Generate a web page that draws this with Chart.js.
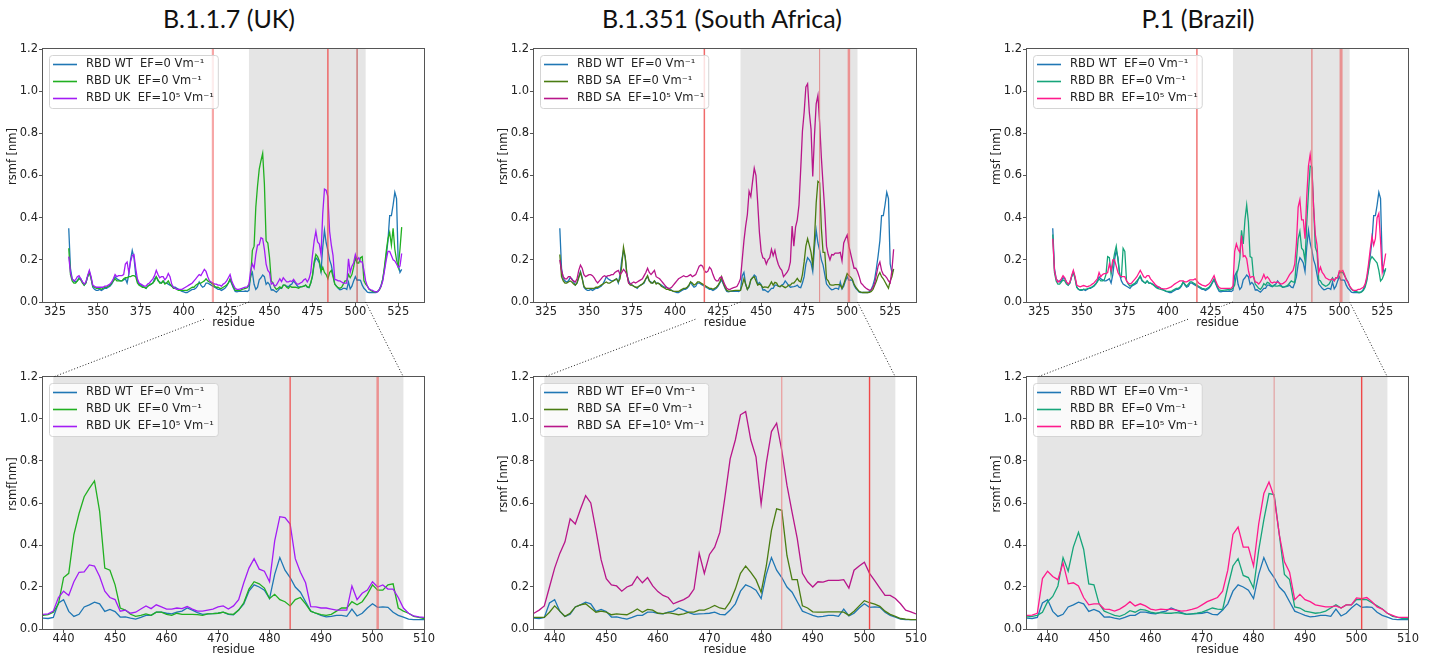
<!DOCTYPE html>
<html>
<head>
<meta charset="utf-8">
<script src="https://cdn.jsdelivr.net/npm/chart.js@4.4.1/dist/chart.umd.min.js"></script>
<style>
  body { margin: 0; background: #fff; width: 1435px; height: 663px; position: relative; overflow: hidden; }
  canvas { position: absolute; }
  #links { left: 0; top: 0; pointer-events: none; z-index: 5; }
  .variant-title {
    position: absolute; top: 6px; transform: translateX(-50%);
    font-family: Lato, "Noto Sans", sans-serif; font-size: 25px; line-height: 25px;
    color: #111; white-space: nowrap;
  }
</style>
</head>
<body>
<div class="variant-title" style="left:229px">B.1.1.7 (UK)</div>
<div class="variant-title" style="left:722px">B.1.351 (South Africa)</div>
<div class="variant-title" style="left:1198px">P.1 (Brazil)</div>
<canvas id="links" width="1435" height="663"></canvas>
<script>
// RMSF per residue, residues 333..527 (one value per residue)
const firstResidue = 333;

const wtRmsf = [
  0.35, 0.16, 0.11, 0.10, 0.095, 0.10, 0.115,
  0.11, 0.095, 0.08, 0.09, 0.12, 0.145, 0.115, 0.07, 0.06, 0.055,
  0.055, 0.06, 0.055, 0.06, 0.065, 0.065, 0.07, 0.075, 0.085, 0.10,
  0.12, 0.11, 0.105, 0.10, 0.10, 0.105, 0.11, 0.09, 0.13, 0.20,
  0.245, 0.21, 0.13, 0.10, 0.085, 0.08, 0.075, 0.07, 0.065, 0.075,
  0.08, 0.085, 0.09, 0.11, 0.12, 0.10, 0.095, 0.09, 0.10, 0.09,
  0.09, 0.085, 0.08, 0.075, 0.07, 0.07, 0.065, 0.06, 0.055, 0.05,
  0.048, 0.045, 0.045, 0.05, 0.055, 0.06, 0.06, 0.065, 0.075, 0.095,
  0.08, 0.07, 0.075, 0.09, 0.09, 0.085, 0.08, 0.075, 0.07, 0.065,
  0.06, 0.06, 0.055, 0.06, 0.065, 0.075, 0.09, 0.105, 0.085, 0.065,
  0.05, 0.048, 0.05, 0.05, 0.05, 0.05, 0.052, 0.05, 0.055, 0.124,
  0.14, 0.084, 0.06, 0.07, 0.105, 0.115, 0.128, 0.12, 0.084, 0.093,
  0.083, 0.057, 0.058, 0.052, 0.047, 0.055, 0.065, 0.065, 0.08, 0.08,
  0.075, 0.072, 0.08, 0.085, 0.10, 0.09, 0.078, 0.07, 0.072, 0.073,
  0.075, 0.08, 0.07, 0.068, 0.09, 0.12, 0.18, 0.21, 0.20, 0.185,
  0.145, 0.26, 0.34, 0.28, 0.245, 0.20, 0.175, 0.13, 0.085, 0.075,
  0.065, 0.058, 0.06, 0.065, 0.065, 0.06, 0.095, 0.062, 0.075, 0.10,
  0.12, 0.103, 0.105, 0.103, 0.08, 0.065, 0.057, 0.047, 0.045, 0.045,
  0.045, 0.045, 0.045, 0.05, 0.06, 0.08, 0.11, 0.16, 0.22, 0.29,
  0.41, 0.41, 0.46, 0.52, 0.49, 0.18, 0.14, 0.155
];

const ukRmsf0 = [
  0.255, 0.13, 0.10, 0.09, 0.09, 0.10, 0.11,
  0.105, 0.09, 0.08, 0.09, 0.12, 0.14, 0.11, 0.075, 0.07, 0.065,
  0.065, 0.065, 0.06, 0.065, 0.07, 0.07, 0.075, 0.08, 0.09, 0.10,
  0.11, 0.10, 0.10, 0.10, 0.10, 0.11, 0.115, 0.115, 0.12, 0.12,
  0.125, 0.125, 0.12, 0.09, 0.08, 0.075, 0.07, 0.07, 0.065, 0.075,
  0.08, 0.085, 0.09, 0.10, 0.12, 0.105, 0.09, 0.09, 0.10, 0.085,
  0.09, 0.10, 0.085, 0.075, 0.065, 0.065, 0.06, 0.055, 0.055, 0.055,
  0.055, 0.055, 0.055, 0.06, 0.065, 0.07, 0.07, 0.08, 0.085, 0.09,
  0.09, 0.095, 0.10, 0.11, 0.10, 0.095, 0.09, 0.085, 0.075, 0.07,
  0.07, 0.065, 0.065, 0.07, 0.075, 0.08, 0.09, 0.11, 0.09, 0.07,
  0.055, 0.055, 0.055, 0.055, 0.06, 0.062, 0.065, 0.068, 0.08, 0.12,
  0.245, 0.265, 0.45, 0.55, 0.63, 0.67, 0.705, 0.56, 0.29, 0.28,
  0.21, 0.10, 0.09, 0.07, 0.06, 0.065, 0.072, 0.065, 0.08, 0.08,
  0.07, 0.065, 0.075, 0.07, 0.07, 0.07, 0.068, 0.065, 0.072, 0.073,
  0.075, 0.08, 0.072, 0.07, 0.09, 0.125, 0.19, 0.225, 0.215, 0.195,
  0.145, 0.165, 0.14, 0.13, 0.11, 0.14, 0.15, 0.12, 0.085, 0.075,
  0.068, 0.065, 0.07, 0.085, 0.10, 0.10, 0.13, 0.115, 0.13, 0.165,
  0.21, 0.185, 0.185, 0.21, 0.215, 0.10, 0.085, 0.075, 0.06, 0.055,
  0.05, 0.048, 0.048, 0.05, 0.058, 0.075, 0.11, 0.17, 0.24, 0.30,
  0.33, 0.27, 0.35, 0.25, 0.20, 0.165, 0.25, 0.355
];

const ukRmsf5 = [
  0.215, 0.14, 0.11, 0.10, 0.105, 0.12, 0.125,
  0.11, 0.095, 0.085, 0.095, 0.125, 0.15, 0.12, 0.08, 0.075, 0.07,
  0.07, 0.07, 0.07, 0.07, 0.075, 0.075, 0.08, 0.085, 0.095, 0.11,
  0.13, 0.12, 0.125, 0.125, 0.125, 0.13, 0.18, 0.19, 0.14, 0.19,
  0.22, 0.225, 0.16, 0.11, 0.09, 0.085, 0.08, 0.075, 0.075, 0.085,
  0.09, 0.10, 0.11, 0.125, 0.15, 0.13, 0.115, 0.12, 0.12, 0.105,
  0.115, 0.135, 0.12, 0.085, 0.07, 0.065, 0.06, 0.06, 0.06, 0.06,
  0.065, 0.07, 0.075, 0.08, 0.085, 0.09, 0.10, 0.11, 0.12, 0.13,
  0.125, 0.14, 0.155, 0.145, 0.12, 0.10, 0.095, 0.09, 0.085, 0.085,
  0.08, 0.08, 0.075, 0.085, 0.09, 0.10, 0.115, 0.13, 0.10, 0.08,
  0.065, 0.06, 0.06, 0.062, 0.065, 0.068, 0.07, 0.072, 0.085, 0.15,
  0.18, 0.16, 0.225, 0.27, 0.272, 0.305, 0.30, 0.25, 0.18, 0.15,
  0.14, 0.085, 0.09, 0.075, 0.08, 0.095, 0.11, 0.097, 0.115, 0.105,
  0.095, 0.095, 0.10, 0.097, 0.107, 0.095, 0.085, 0.085, 0.09, 0.095,
  0.105, 0.11, 0.095, 0.11, 0.14, 0.22, 0.29, 0.335, 0.285, 0.275,
  0.225, 0.42, 0.535, 0.53, 0.50, 0.335, 0.27, 0.22, 0.107, 0.105,
  0.10, 0.10, 0.095, 0.09, 0.09, 0.09, 0.205, 0.14, 0.17, 0.185,
  0.225, 0.20, 0.21, 0.19, 0.19, 0.15, 0.10, 0.075, 0.062, 0.058,
  0.055, 0.05, 0.048, 0.048, 0.06, 0.075, 0.10, 0.15, 0.20, 0.24,
  0.24, 0.22, 0.20, 0.195, 0.18, 0.165, 0.17, 0.23
];

const saRmsf0 = [
  0.225, 0.12, 0.10, 0.09, 0.09, 0.095, 0.10,
  0.095, 0.085, 0.08, 0.09, 0.115, 0.14, 0.11, 0.075, 0.065, 0.065,
  0.065, 0.065, 0.065, 0.065, 0.07, 0.07, 0.075, 0.08, 0.085, 0.09,
  0.095, 0.09, 0.09, 0.095, 0.10, 0.105, 0.11, 0.095, 0.11, 0.17,
  0.26, 0.215, 0.13, 0.09, 0.08, 0.08, 0.075, 0.07, 0.07, 0.075,
  0.08, 0.085, 0.095, 0.11, 0.125, 0.10, 0.09, 0.09, 0.10, 0.085,
  0.09, 0.085, 0.075, 0.07, 0.065, 0.06, 0.06, 0.055, 0.055, 0.05,
  0.05, 0.05, 0.05, 0.055, 0.06, 0.065, 0.065, 0.07, 0.08, 0.095,
  0.09, 0.08, 0.085, 0.095, 0.095, 0.09, 0.085, 0.08, 0.075, 0.07,
  0.065, 0.065, 0.06, 0.065, 0.07, 0.08, 0.095, 0.12, 0.09, 0.07,
  0.055, 0.052, 0.052, 0.053, 0.054, 0.055, 0.055, 0.055, 0.055, 0.08,
  0.11, 0.085, 0.06, 0.075, 0.105, 0.115, 0.12, 0.10, 0.08, 0.085,
  0.08, 0.068, 0.072, 0.07, 0.068, 0.08, 0.095, 0.08, 0.093, 0.09,
  0.075, 0.073, 0.078, 0.073, 0.068, 0.072, 0.08, 0.08, 0.09, 0.09,
  0.10, 0.112, 0.10, 0.095, 0.13, 0.19, 0.265, 0.30, 0.27, 0.235,
  0.175, 0.30, 0.47, 0.572, 0.565, 0.35, 0.235, 0.235, 0.11, 0.10,
  0.082, 0.08, 0.08, 0.082, 0.082, 0.082, 0.08, 0.065, 0.085, 0.11,
  0.135, 0.125, 0.118, 0.108, 0.085, 0.07, 0.06, 0.05, 0.047, 0.045,
  0.045, 0.045, 0.045, 0.046, 0.05, 0.06, 0.08, 0.10, 0.125, 0.14,
  0.12, 0.11, 0.095, 0.08, 0.065, 0.10, 0.12, 0.157
];

const saRmsf5 = [
  0.20, 0.15, 0.12, 0.11, 0.11, 0.12, 0.12,
  0.105, 0.10, 0.095, 0.11, 0.15, 0.175, 0.16, 0.13, 0.12, 0.125,
  0.13, 0.13, 0.125, 0.115, 0.10, 0.09, 0.10, 0.11, 0.12, 0.125,
  0.12, 0.125, 0.125, 0.13, 0.13, 0.14, 0.145, 0.15, 0.13, 0.14,
  0.155, 0.145, 0.13, 0.09, 0.085, 0.09, 0.095, 0.09, 0.095, 0.10,
  0.105, 0.11, 0.125, 0.14, 0.16, 0.14, 0.13, 0.14, 0.15, 0.12,
  0.115, 0.11, 0.10, 0.09, 0.08, 0.07, 0.065, 0.065, 0.07, 0.08,
  0.09, 0.10, 0.11, 0.115, 0.12, 0.125, 0.12, 0.12, 0.125, 0.13,
  0.12, 0.125, 0.13, 0.15, 0.17, 0.175, 0.17, 0.15, 0.14, 0.145,
  0.165, 0.155, 0.13, 0.11, 0.10, 0.10, 0.115, 0.12, 0.10, 0.08,
  0.065, 0.06, 0.06, 0.065, 0.068, 0.07, 0.075, 0.09, 0.11, 0.20,
  0.29, 0.36, 0.415, 0.525, 0.50, 0.57, 0.635, 0.60, 0.47, 0.33,
  0.24, 0.21, 0.205, 0.18, 0.20, 0.21, 0.25, 0.22, 0.245, 0.205,
  0.178, 0.16, 0.15, 0.12, 0.13, 0.14, 0.155, 0.19, 0.36, 0.265,
  0.355, 0.39, 0.46, 0.63, 0.81, 0.90, 1.02, 1.035, 0.90, 0.82,
  0.595, 0.79, 0.94, 0.98, 0.85, 0.685, 0.555, 0.43, 0.265, 0.225,
  0.20, 0.225, 0.223, 0.232, 0.232, 0.232, 0.235, 0.195, 0.28, 0.30,
  0.318, 0.265, 0.23, 0.195, 0.16, 0.16, 0.145, 0.12, 0.09, 0.082,
  0.072, 0.065, 0.06, 0.055, 0.058, 0.07, 0.09, 0.13, 0.17, 0.19,
  0.15, 0.13, 0.125, 0.115, 0.10, 0.09, 0.15, 0.25
];

const brRmsf0 = [
  0.32, 0.14, 0.10, 0.085, 0.085, 0.095, 0.105,
  0.10, 0.085, 0.08, 0.09, 0.12, 0.14, 0.11, 0.07, 0.06, 0.058,
  0.058, 0.06, 0.06, 0.062, 0.065, 0.068, 0.072, 0.078, 0.085, 0.095,
  0.11, 0.10, 0.10, 0.105, 0.13, 0.215, 0.21, 0.13, 0.18, 0.23,
  0.265, 0.20, 0.13, 0.12, 0.255, 0.24, 0.10, 0.085, 0.075, 0.08,
  0.085, 0.09, 0.10, 0.11, 0.125, 0.105, 0.095, 0.09, 0.10, 0.09,
  0.09, 0.085, 0.078, 0.07, 0.065, 0.062, 0.06, 0.057, 0.055, 0.052,
  0.05, 0.05, 0.05, 0.055, 0.06, 0.065, 0.065, 0.07, 0.08, 0.095,
  0.085, 0.075, 0.085, 0.095, 0.095, 0.09, 0.085, 0.08, 0.075, 0.07,
  0.065, 0.063, 0.06, 0.065, 0.07, 0.08, 0.095, 0.11, 0.09, 0.07,
  0.057, 0.055, 0.055, 0.056, 0.057, 0.058, 0.058, 0.06, 0.065, 0.08,
  0.13, 0.155, 0.205, 0.34, 0.275, 0.39, 0.46, 0.38, 0.215, 0.21,
  0.12, 0.085, 0.075, 0.065, 0.06, 0.07, 0.087, 0.08, 0.093, 0.09,
  0.08, 0.075, 0.078, 0.075, 0.075, 0.078, 0.075, 0.07, 0.072, 0.075,
  0.08, 0.09, 0.10, 0.095, 0.093, 0.20, 0.30, 0.335, 0.255, 0.245,
  0.195, 0.375, 0.52, 0.645, 0.64, 0.45, 0.26, 0.235, 0.105, 0.10,
  0.085, 0.08, 0.075, 0.078, 0.085, 0.10, 0.115, 0.10, 0.115, 0.115,
  0.14, 0.14, 0.14, 0.125, 0.11, 0.095, 0.075, 0.06, 0.055, 0.05,
  0.05, 0.045, 0.045, 0.048, 0.055, 0.07, 0.10, 0.15, 0.20, 0.215,
  0.205, 0.195, 0.185, 0.15, 0.10, 0.11, 0.13, 0.16
];

const brRmsf5 = [
  0.30, 0.15, 0.11, 0.095, 0.10, 0.11, 0.125,
  0.115, 0.095, 0.085, 0.095, 0.125, 0.15, 0.12, 0.08, 0.075, 0.072,
  0.075, 0.078, 0.075, 0.072, 0.075, 0.078, 0.085, 0.09, 0.10, 0.11,
  0.14, 0.12, 0.13, 0.135, 0.135, 0.14, 0.18, 0.15, 0.20, 0.20,
  0.17, 0.14, 0.125, 0.12, 0.12, 0.12, 0.10, 0.09, 0.085, 0.09,
  0.10, 0.11, 0.12, 0.135, 0.15, 0.135, 0.12, 0.115, 0.125, 0.125,
  0.11, 0.10, 0.09, 0.08, 0.075, 0.07, 0.065, 0.063, 0.062, 0.062,
  0.065, 0.068, 0.072, 0.078, 0.085, 0.09, 0.095, 0.10, 0.10, 0.10,
  0.095, 0.095, 0.10, 0.105, 0.105, 0.105, 0.11, 0.10, 0.09, 0.085,
  0.08, 0.078, 0.075, 0.08, 0.085, 0.095, 0.11, 0.125, 0.10, 0.08,
  0.068, 0.065, 0.065, 0.065, 0.065, 0.065, 0.065, 0.066, 0.075, 0.24,
  0.275, 0.25, 0.235, 0.315, 0.215, 0.22, 0.205, 0.15, 0.115, 0.12,
  0.12, 0.095, 0.093, 0.085, 0.095, 0.11, 0.13, 0.11, 0.12, 0.11,
  0.095, 0.09, 0.095, 0.092, 0.095, 0.09, 0.085, 0.087, 0.093, 0.10,
  0.115, 0.13, 0.14, 0.15, 0.18, 0.28, 0.45, 0.485, 0.39, 0.39,
  0.30, 0.50, 0.645, 0.70, 0.63, 0.45, 0.32, 0.27, 0.14, 0.165,
  0.14, 0.13, 0.115, 0.11, 0.105, 0.105, 0.11, 0.10, 0.115, 0.115,
  0.148, 0.145, 0.15, 0.13, 0.105, 0.095, 0.075, 0.065, 0.055, 0.055,
  0.055, 0.06, 0.06, 0.065, 0.07, 0.085, 0.12, 0.18, 0.25, 0.31,
  0.27, 0.30, 0.40, 0.42, 0.29, 0.14, 0.18, 0.23
];

// axes
const fullRange = [318, 540];
const zoomRange = [436, 510];
const fullTicks = [325, 350, 375, 400, 425, 450, 475, 500, 525];
const zoomTicks = [440, 450, 460, 470, 480, 490, 500, 510];
const rmsfTicks = [0, 0.2, 0.4, 0.6, 0.8, 1.0, 1.2];

// mutated residues and the shaded receptor-binding window
const mutationSites = [417, 484, 501];
const zoomWindow = [438, 506];

// ---- layout (plot area edges in page pixels) ----
const columns = [{ left: 43, right: 424 }, { left: 534, right: 916 }, { left: 1027, right: 1408 }];
const rows = [{ top: 49, bottom: 302 }, { top: 377, bottom: 629 }];
const AXIS_W = 37, AXIS_H = 28, PAD_TOP = 10, PAD_RIGHT = 14;
const TEXT = '#222';
const FONT = '"DejaVu Sans", sans-serif';
const FONT_SIZE = 11.5;

const variants = [
  {
    tag: 'UK', noField: ukRmsf0, withField: ukRmsf5,
    colors: ['#1f77b4', '#21b021', '#a31cf5'],
    ylabels: ['rsmf [nm]', 'rsmf[nm]'],
    markers: [
      [{ c: 'rgba(240,80,80,0.5)', w: 2.2 }, { c: 'rgba(240,70,70,0.85)', w: 1.4 }, { c: '#c04545', w: 1 }],
      [{ c: 'rgba(240,80,80,0.5)', w: 2.2 }, { c: '#f04a4a', w: 1.2 }, { c: 'rgba(240,100,100,0.65)', w: 2.5 }]
    ]
  },
  {
    tag: 'SA', noField: saRmsf0, withField: saRmsf5,
    colors: ['#1f77b4', '#4a7c12', '#b8168a'],
    ylabels: ['rsmf [nm]', 'rsmf [nm]'],
    markers: [
      [{ c: '#f06a6a', w: 1.5 }, { c: '#e08a8a', w: 1 }, { c: 'rgba(240,90,90,0.6)', w: 2.5 }],
      [{ c: '#f06a6a', w: 1.5 }, { c: '#eb8c8c', w: 1 }, { c: '#f04848', w: 1.4 }]
    ]
  },
  {
    tag: 'BR', noField: brRmsf0, withField: brRmsf5,
    colors: ['#1f77b4', '#16a57a', '#ff1a8c'],
    ylabels: ['rmsf [nm]', 'rsmf [nm]'],
    markers: [
      [{ c: '#f06a6a', w: 1.4 }, { c: '#e07f7f', w: 1.2 }, { c: 'rgba(235,90,90,0.6)', w: 3 }],
      [{ c: '#f06a6a', w: 1.4 }, { c: '#e39595', w: 1 }, { c: '#f04848', w: 1.4 }]
    ]
  }
];

// shading, mutation markers, in-axes legend, frame and the y label
const panelDecor = {
  id: 'panelDecor',
  beforeDatasetsDraw(chart) {
    const { ctx, chartArea: a, scales: { x } } = chart;
    const x0 = x.getPixelForValue(zoomWindow[0]);
    const x1 = x.getPixelForValue(zoomWindow[1]);
    ctx.save();
    ctx.beginPath();
    ctx.rect(a.left, a.top, a.width, a.height);
    ctx.clip();
    ctx.fillStyle = '#e5e5e5';
    ctx.fillRect(x0, a.top, x1 - x0, a.height);
    ctx.restore();
  },
  afterDatasetsDraw(chart, args, opts) {
    const { ctx, chartArea: a, scales: { x } } = chart;
    ctx.save();
    ctx.beginPath();
    ctx.rect(a.left, a.top, a.width, a.height);
    ctx.clip();
    mutationSites.forEach((res, i) => {
      const px = x.getPixelForValue(res);
      ctx.beginPath();
      ctx.moveTo(px, a.top);
      ctx.lineTo(px, a.bottom);
      ctx.strokeStyle = opts.markers[i].c;
      ctx.lineWidth = opts.markers[i].w;
      ctx.stroke();
    });
    ctx.restore();

    // legend box in the upper left corner
    ctx.save();
    ctx.font = FONT_SIZE + 'px ' + FONT;
    const sets = chart.data.datasets;
    const textW = Math.max(...sets.map(d => ctx.measureText(d.label).width));
    const bx = a.left + 6, by = a.top + 6, bw = 37 + textW + 4, bh = 53;
    ctx.beginPath();
    if (ctx.roundRect) ctx.roundRect(bx + 0.5, by + 0.5, bw, bh, 3);
    else ctx.rect(bx + 0.5, by + 0.5, bw, bh);
    ctx.fillStyle = 'rgba(255,255,255,0.8)';
    ctx.fill();
    ctx.strokeStyle = '#d4d4d4';
    ctx.lineWidth = 1;
    ctx.stroke();
    sets.forEach((d, i) => {
      const cy = by + 9.5 + i * 17;
      ctx.beginPath();
      ctx.moveTo(bx + 4, cy);
      ctx.lineTo(bx + 28, cy);
      ctx.strokeStyle = d.borderColor;
      ctx.lineWidth = 1.6;
      ctx.stroke();
      ctx.fillStyle = TEXT;
      ctx.textBaseline = 'middle';
      ctx.fillText(d.label, bx + 37, cy);
    });
    ctx.restore();
  },
  afterDraw(chart, args, opts) {
    const { ctx, chartArea: a } = chart;
    ctx.save();
    ctx.strokeStyle = '#555';
    ctx.lineWidth = 1;
    ctx.strokeRect(Math.round(a.left) - 0.5, Math.round(a.top) - 0.5,
                   Math.round(a.width) + 1, Math.round(a.height) + 1);
    ctx.translate(a.left - 30, (a.top + a.bottom) / 2 - 19);
    ctx.rotate(-Math.PI / 2);
    ctx.font = FONT_SIZE + 'px ' + FONT;
    ctx.fillStyle = TEXT;
    ctx.textAlign = 'center';
    ctx.textBaseline = 'middle';
    ctx.fillText(opts.ylabel, 0, 0);
    ctx.restore();
  }
};

function toPoints(values) {
  return values.map((v, i) => ({ x: firstResidue + i, y: v }));
}

function buildPanel(variant, col, zoomed) {
  const c = columns[col], r = rows[zoomed ? 1 : 0];
  const canvas = document.createElement('canvas');
  canvas.width = c.right - c.left + AXIS_W + PAD_RIGHT;
  canvas.height = r.bottom - r.top + PAD_TOP + AXIS_H;
  canvas.style.left = (c.left - AXIS_W) + 'px';
  canvas.style.top = (r.top - PAD_TOP) + 'px';
  document.body.appendChild(canvas);

  const series = [
    { label: 'RBD WT  EF=0 Vm⁻¹', values: wtRmsf },
    { label: 'RBD ' + variant.tag + '  EF=0 Vm⁻¹', values: variant.noField },
    { label: 'RBD ' + variant.tag + '  EF=10⁵ Vm⁻¹', values: variant.withField }
  ];
  const range = zoomed ? zoomRange : fullRange;
  const xTicks = zoomed ? zoomTicks : fullTicks;
  const tickGrid = { display: true, drawOnChartArea: false, drawTicks: true, tickLength: 4, tickColor: '#555' };
  const tickFont = { family: FONT, size: FONT_SIZE, lineHeight: 1 };

  const chart = new Chart(canvas, {
    type: 'line',
    data: {
      datasets: series.map((s, i) => ({
        label: s.label,
        data: toPoints(s.values),
        borderColor: variant.colors[i],
        borderWidth: 1.3,
        pointRadius: 0,
        tension: 0,
        fill: false,
        order: series.length - i
      }))
    },
    options: {
      responsive: false,
      animation: false,
      events: [],
      layout: { padding: { top: PAD_TOP, right: PAD_RIGHT, left: 0, bottom: 0 } },
      plugins: {
        legend: { display: false },
        tooltip: { enabled: false },
        panelDecor: { markers: variant.markers[zoomed ? 1 : 0], ylabel: variant.ylabels[zoomed ? 1 : 0] }
      },
      scales: {
        x: {
          type: 'linear',
          min: range[0],
          max: range[1],
          afterBuildTicks: s => { s.ticks = xTicks.map(v => ({ value: v })); },
          afterFit: s => { s.height = AXIS_H; },
          ticks: { autoSkip: false, maxRotation: 0, padding: 0, color: TEXT, font: tickFont, callback: v => String(v) },
          grid: tickGrid,
          border: { display: false },
          title: { display: true, text: 'residue', color: TEXT, font: { family: FONT, size: FONT_SIZE }, padding: { top: 0, bottom: 0 } }
        },
        y: {
          min: 0,
          max: 1.2,
          afterBuildTicks: s => { s.ticks = rmsfTicks.map(v => ({ value: v })); },
          afterFit: s => { s.width = AXIS_W; },
          ticks: { padding: 1, color: TEXT, font: tickFont, callback: v => v.toFixed(1) },
          grid: tickGrid,
          border: { display: false }
        }
      }
    },
    plugins: [panelDecor]
  });
  return { chart, canvas };
}

// dotted lines tying the zoom window of each upper panel to the panel below it
function linkPanels(upper, lower) {
  const ctx = document.getElementById('links').getContext('2d');
  const ux = upper.chart.scales.x, lx = lower.chart.scales.x;
  const uLeft = parseFloat(upper.canvas.style.left), uTop = parseFloat(upper.canvas.style.top);
  const lLeft = parseFloat(lower.canvas.style.left), lTop = parseFloat(lower.canvas.style.top);
  zoomWindow.forEach((res, i) => {
    const x1 = uLeft + ux.getPixelForValue(res), y1 = uTop + upper.chart.chartArea.bottom;
    const x2 = lLeft + lx.getPixelForValue(res), y2 = lTop + lower.chart.chartArea.top;
    const at = t => [x1 + (x2 - x1) * t, y1 + (y2 - y1) * t];
    const pieces = i === 0 ? [[0, 0.06], [0.23, 1]] : [[0, 1]];
    ctx.save();
    ctx.strokeStyle = '#222';
    ctx.lineWidth = 1;
    ctx.setLineDash([1, 2]);
    pieces.forEach(([t0, t1]) => {
      ctx.beginPath();
      ctx.moveTo(...at(t0));
      ctx.lineTo(...at(t1));
      ctx.stroke();
    });
    ctx.restore();
  });
}

variants.forEach((v, col) => {
  const upper = buildPanel(v, col, false);
  const lower = buildPanel(v, col, true);
  linkPanels(upper, lower);
});
</script>
</body>
</html>
